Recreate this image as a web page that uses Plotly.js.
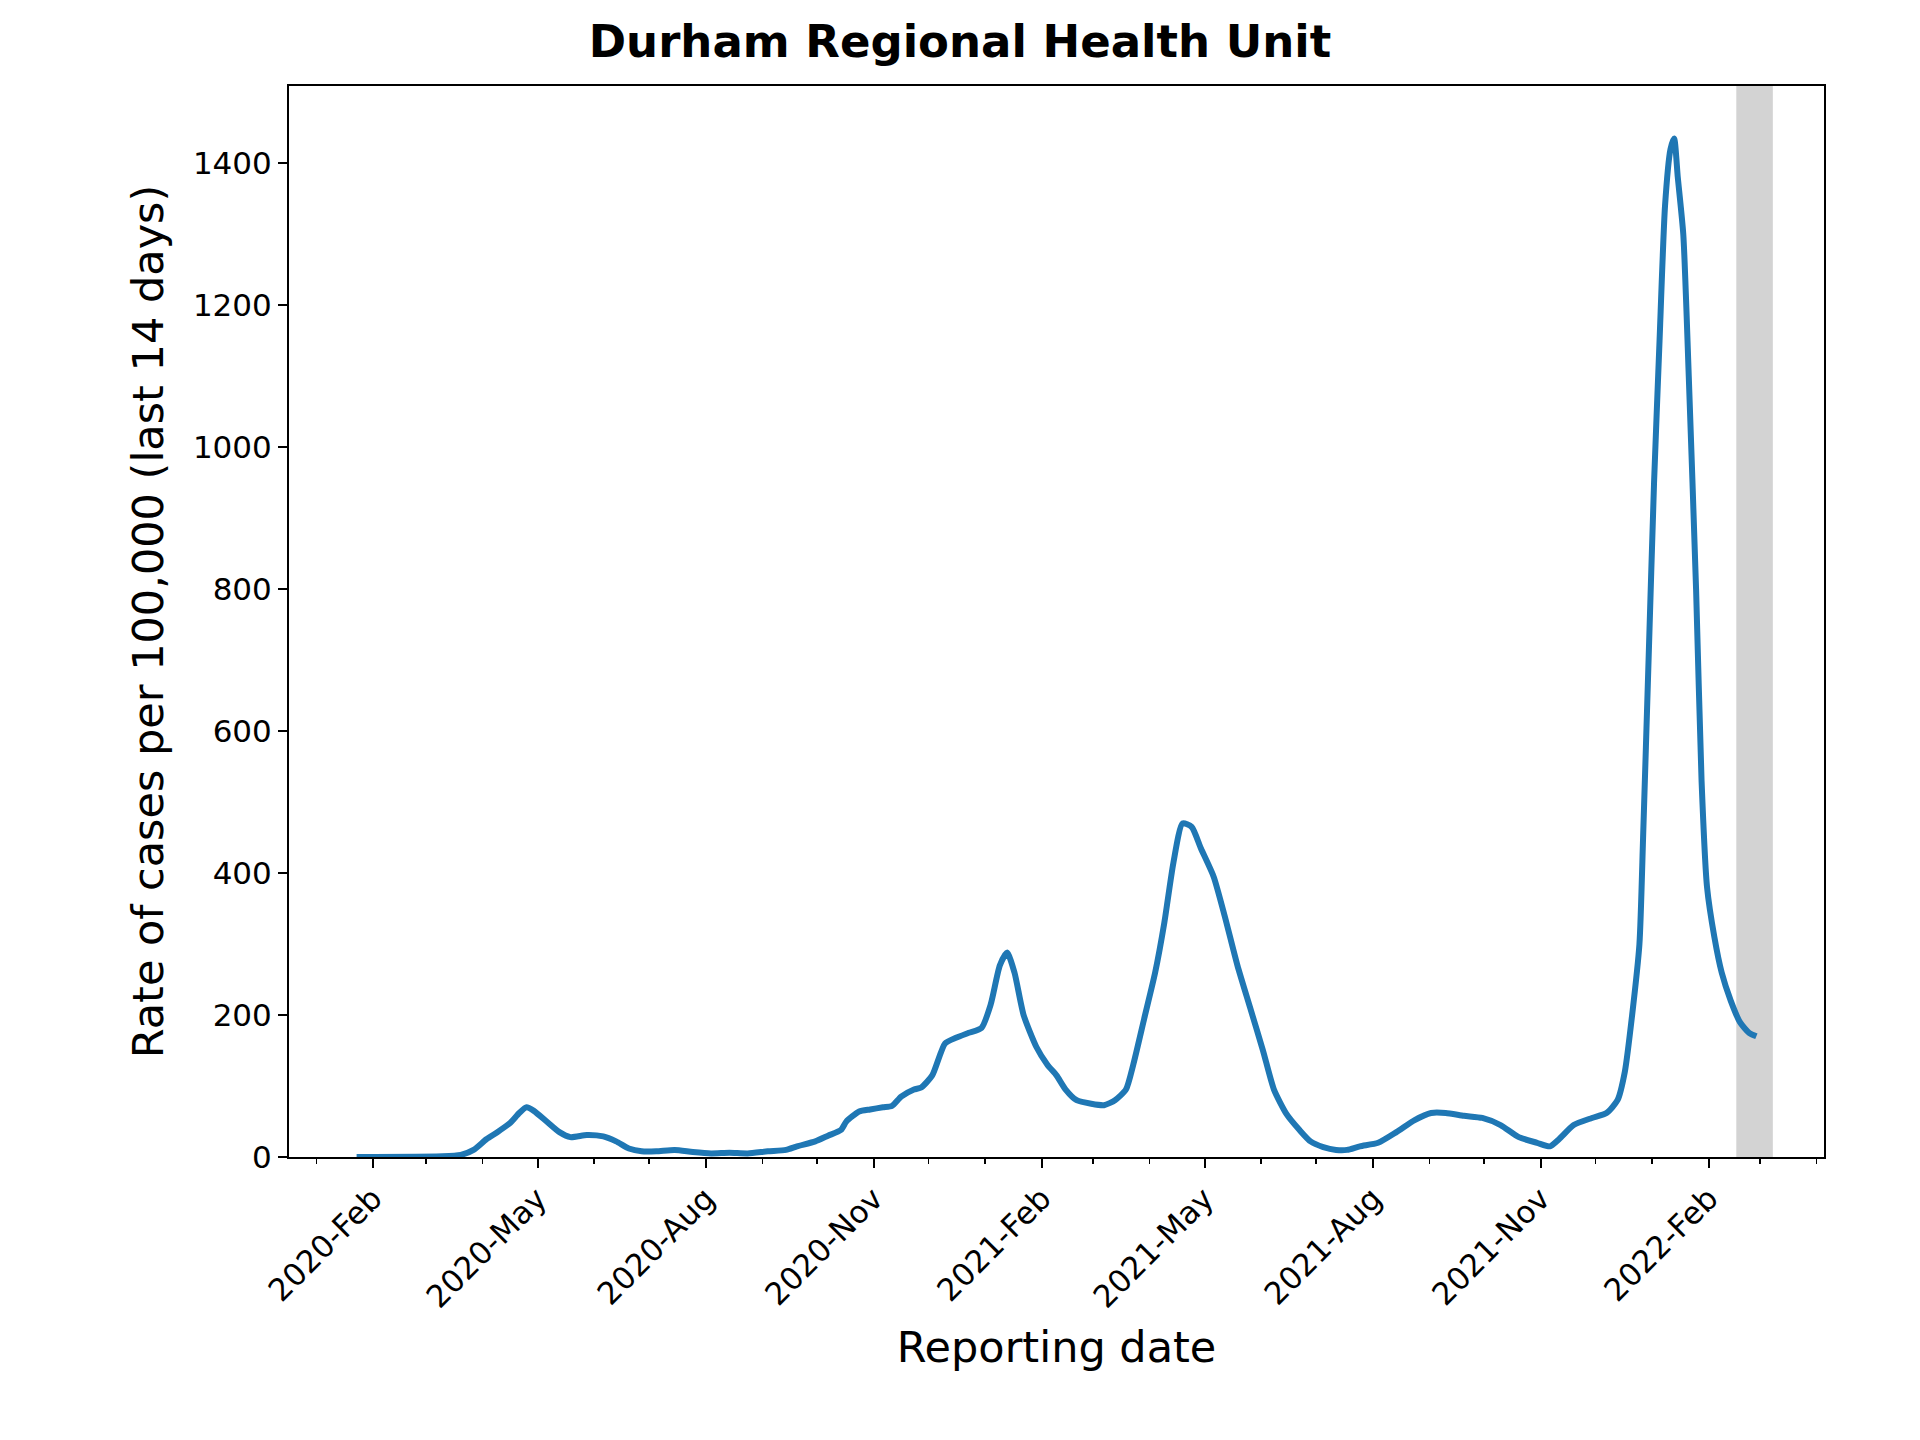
<!DOCTYPE html>
<html>
<head>
<meta charset="utf-8">
<script src="https://cdn.plot.ly/plotly-3.0.1.min.js"></script>
<style>body{margin:0;background:#fff}</style>
</head>
<body>
<div id="graph" style="width:1920px;height:1440px"></div>
<script>
const dates = ['2020-01-23','2020-03-10','2020-03-20','2020-03-27','2020-04-03','2020-04-09','2020-04-16','2020-04-21','2020-04-25','2020-04-29',
  '2020-05-06','2020-05-13','2020-05-19','2020-05-28','2020-06-06','2020-06-13','2020-06-20','2020-06-27','2020-07-05','2020-07-15',
  '2020-07-25','2020-08-04','2020-08-14','2020-08-24','2020-09-04','2020-09-14','2020-09-20','2020-09-30','2020-10-07','2020-10-14',
  '2020-10-17','2020-10-24','2020-10-30','2020-11-06','2020-11-11','2020-11-16','2020-11-23','2020-11-27','2020-12-03','2020-12-10',
  '2020-12-16','2020-12-23','2020-12-30','2021-01-04','2021-01-09','2021-01-13','2021-01-17','2021-01-22','2021-01-29','2021-02-04',
  '2021-02-09','2021-02-14','2021-02-20','2021-02-28','2021-03-07','2021-03-13','2021-03-19','2021-03-23','2021-03-29','2021-04-04',
  '2021-04-09','2021-04-14','2021-04-19','2021-04-24','2021-04-29','2021-05-06','2021-05-12','2021-05-19','2021-05-26','2021-06-02',
  '2021-06-08','2021-06-15','2021-06-22','2021-06-28','2021-07-05','2021-07-12','2021-07-18','2021-07-25','2021-08-04','2021-08-14',
  '2021-08-24','2021-09-02','2021-09-10','2021-09-20','2021-09-30','2021-10-10','2021-10-20','2021-10-30','2021-11-06','2021-11-11',
  '2021-11-19','2021-11-29','2021-12-07','2021-12-13','2021-12-17','2021-12-21','2021-12-25','2021-12-27','2021-12-30','2022-01-02',
  '2022-01-05','2022-01-08','2022-01-11','2022-01-13','2022-01-15','2022-01-18','2022-01-21','2022-01-25','2022-01-28','2022-01-31',
  '2022-02-04','2022-02-08','2022-02-13','2022-02-18','2022-02-23','2022-02-27'];
const rates = [0,1,3,10,25,35,48,62,70,65,
  50,35,28,31,29,22,12,8,8,10,
  7,5,6,5,8,10,15,22,30,38,
  50,64,67,70,72,85,95,98,115,160,
  168,175,182,215,270,288,260,200,155,130,
  115,95,80,75,73,80,95,130,195,260,
  330,415,470,465,435,395,340,270,210,150,
  95,60,38,22,14,10,10,15,20,35,
  52,62,62,58,55,45,28,20,15,25,
  45,55,62,80,120,200,300,450,700,950,
  1150,1340,1420,1435,1380,1300,1100,800,530,380,
  310,260,220,190,175,170];
const tickDates = ['2020-02-01','2020-05-01','2020-08-01','2020-11-01','2021-02-01','2021-05-01','2021-08-01','2021-11-01','2022-02-01'];
const tickLabels = ['2020-Feb','2020-May','2020-Aug','2020-Nov','2021-Feb','2021-May','2021-Aug','2021-Nov','2022-Feb'];
const spanStart = '2022-02-16';
const spanEnd = '2022-03-08';

const trace = {
  type: 'scatter', mode: 'lines', x: dates, y: rates,
  line: {color: '#1f77b4', width: 6, shape: 'spline', smoothing: 0.6}
};

const layout = {
  width: 1920, height: 1440,
  margin: {l: 289, r: 96, t: 86, b: 283},
  paper_bgcolor: '#fff', plot_bgcolor: '#fff',
  font: {family: 'DejaVu Sans', color: '#000', size: 31},
  showlegend: false,
  title: {text: '<b>Durham Regional Health Unit</b>', font: {size: 45}, x: 0.5, xanchor: 'center', y: 0.982, yanchor: 'top'},
  xaxis: {
    type: 'date', range: ['2019-12-17', '2022-04-05'],
    tickvals: tickDates, ticktext: tickLabels, tickangle: -45,
    ticks: 'outside', ticklen: 9, tickwidth: 2, tickcolor: '#000',
    minor: {dtick: 'M1', tick0: '2020-01-01', ticks: 'outside', ticklen: 5, tickwidth: 1.5, tickcolor: '#000'},
    showgrid: false, zeroline: false,
    showline: true, linecolor: '#000', linewidth: 2, mirror: true,
    tickfont: {size: 31},
    title: {text: 'Reporting date', font: {size: 43}, standoff: 18}
  },
  yaxis: {
    range: [0, 1509],
    tickvals: [0, 200, 400, 600, 800, 1000, 1200, 1400],
    ticks: 'outside', ticklen: 9, tickwidth: 2, tickcolor: '#000',
    showgrid: false, zeroline: false,
    showline: true, linecolor: '#000', linewidth: 2, mirror: true,
    tickfont: {size: 31},
    title: {text: 'Rate of cases per 100,000 (last 14 days)', font: {size: 43}, standoff: 16}
  },
  shapes: [{
    type: 'rect', xref: 'x', yref: 'paper', x0: spanStart, x1: spanEnd, y0: 0, y1: 1,
    fillcolor: '#d3d3d3', line: {width: 0}, layer: 'below'
  }]
};

Plotly.newPlot('graph', [trace], layout, {staticPlot: true});
</script>
</body>
</html>
